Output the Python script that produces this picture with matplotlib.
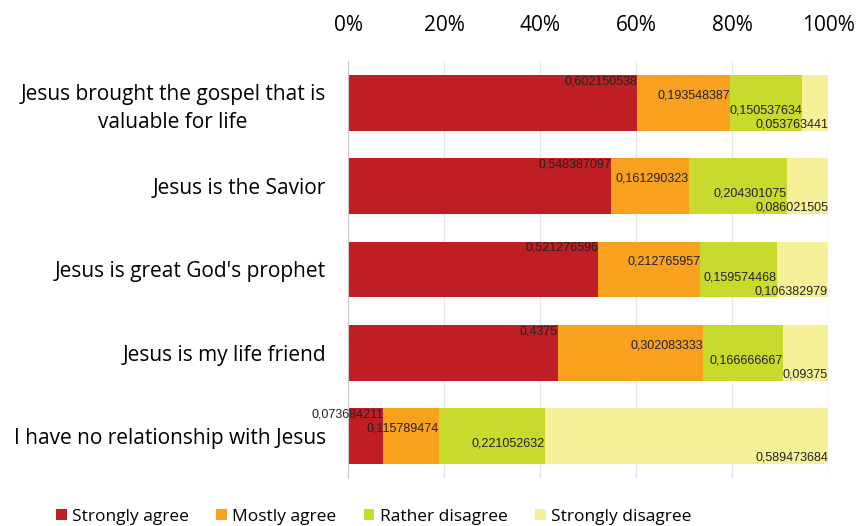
import matplotlib.pyplot as plt
from matplotlib import font_manager

statements = [
    "Jesus brought the gospel that is\nvaluable for life",
    "Jesus is the Savior",
    "Jesus is great God's prophet",
    "Jesus is my life friend",
    "I have no relationship with Jesus",
]
strongly_agree = [0.602150538, 0.548387097, 0.521276596, 0.4375, 0.073684211]
mostly_agree = [0.193548387, 0.161290323, 0.212765957, 0.302083333, 0.115789474]
rather_disagree = [0.150537634, 0.204301075, 0.159574468, 0.166666667, 0.221052632]
strongly_disagree = [0.053763441, 0.086021505, 0.106382979, 0.09375, 0.589473684]
value_labels = [
    ["0,602150538", "0,548387097", "0,521276596", "0,4375", "0,073684211"],
    ["0,193548387", "0,161290323", "0,212765957", "0,302083333", "0,115789474"],
    ["0,150537634", "0,204301075", "0,159574468", "0,166666667", "0,221052632"],
    ["0,053763441", "0,086021505", "0,106382979", "0,09375", "0,589473684"],
]
series_names = ["Strongly agree", "Mostly agree", "Rather disagree", "Strongly disagree"]
colors = ["#BE1E24", "#F7A11E", "#C8DA2B", "#F6F199"]

names = {f.name for f in font_manager.fontManager.ttflist}
label_font = "Liberation Sans Narrow" if "Liberation Sans Narrow" in names else "Liberation Sans"
plt.rcParams["font.family"] = ["Open Sans", "DejaVu Sans"]

fig = plt.figure(figsize=(8.63, 5.26), dpi=100)
ax = fig.add_axes([348 / 863, 1 - 478 / 526, 480 / 863, 417 / 526])

series = [strongly_agree, mostly_agree, rather_disagree, strongly_disagree]
y = list(range(len(statements)))
left = [0.0] * len(statements)
offsets = [-0.26, -0.09, 0.09, 0.26]
for k, vals in enumerate(series):
    ax.barh(y, vals, left=left, height=0.67, color=colors[k], label=series_names[k], zorder=2)
    for i, v in enumerate(vals):
        end = left[i] + v
        ax.text(end, i + offsets[k], value_labels[k][i], ha="right", va="center",
                fontsize=9, family=label_font, color="#222222", zorder=3)
    left = [l + v for l, v in zip(left, vals)]

ax.set_xlim(0, 1)
ax.set_ylim(len(statements) - 0.5, -0.5)
ax.set_yticks(y)
ax.set_yticklabels(statements, fontsize=15, multialignment="center", linespacing=1.4)
ax.set_xticks([0, 0.2, 0.4, 0.6, 0.8, 1.0])
ax.set_xticklabels(["0%", "20%", "40%", "60%", "80%", "100%"], fontsize=15)
ax.xaxis.tick_top()
ax.tick_params(axis="both", length=0)
ax.tick_params(axis="x", pad=18)
ax.tick_params(axis="y", pad=16)
ax.grid(axis="x", color="#E6E6E6", linewidth=1, zorder=0)
for side in ["top", "right", "bottom"]:
    ax.spines[side].set_visible(False)
ax.spines["left"].set_color("#C8C8C8")

fig.legend(loc="lower left", bbox_to_anchor=(0.047, -0.028), ncol=4, frameon=False,
           fontsize=12.5, handlelength=0.6, handleheight=0.6, handletextpad=0.3,
           columnspacing=1.6)

fig.savefig("out.png", dpi=100)
